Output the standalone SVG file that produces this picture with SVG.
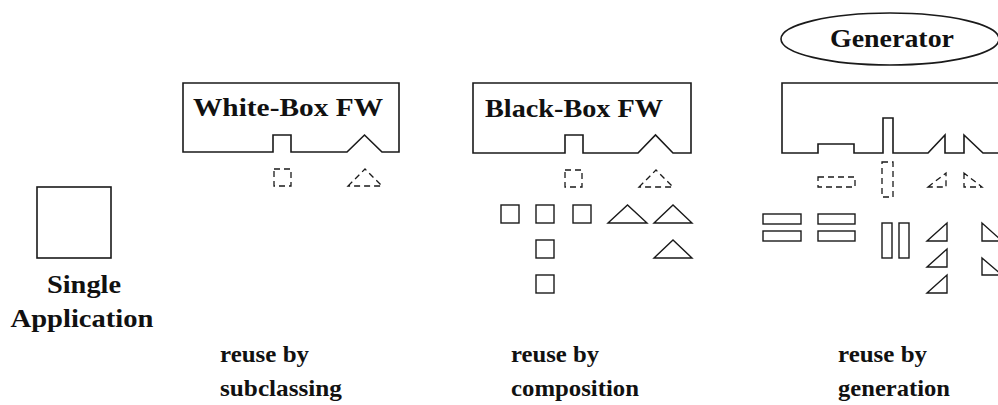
<svg xmlns="http://www.w3.org/2000/svg" width="998" height="405" viewBox="0 0 998 405">
  <style>
    .frame { fill: none; stroke: #1a1a1a; stroke-width: 1.6; stroke-linejoin: miter; }
    .part { fill: none; stroke: #1a1a1a; stroke-width: 1.4; }
    .slot { fill: none; stroke: #1a1a1a; stroke-width: 1.3; stroke-dasharray: 6 4; }
    .title { font-family: "Liberation Serif", "Times New Roman", serif; font-weight: bold; font-size: 26px; fill: #111; }
    .caption { font-family: "Liberation Serif", "Times New Roman", serif; font-weight: bold; font-size: 24px; fill: #111; }
  </style>
  <rect width="998" height="405" fill="#fff"/>

  <!-- Single application -->
  <g id="single-application">
    <rect class="frame" x="37" y="187" width="74" height="71"/>
    <text class="title" x="84" y="293" text-anchor="middle" textLength="74" lengthAdjust="spacingAndGlyphs">Single</text>
    <text class="title" x="82" y="327" text-anchor="middle" textLength="143" lengthAdjust="spacingAndGlyphs">Application</text>
  </g>

  <!-- White-box framework -->
  <g id="white-box-fw">
    <path class="frame" d="M183,83 H399 V152 H382 L364.5,135 L347,152 H291 V135 H273 V152 H183 Z"/>
    <text class="title" x="193" y="116" textLength="190" lengthAdjust="spacingAndGlyphs">White-Box FW</text>
    <rect class="slot" x="274" y="169" width="17" height="17"/>
    <polygon class="slot" points="348,186 365,169 382,186"/>
  </g>
  <g id="label-subclassing">
    <text class="caption" x="220" y="362" textLength="89" lengthAdjust="spacingAndGlyphs">reuse by</text>
    <text class="caption" x="220" y="396" textLength="122" lengthAdjust="spacingAndGlyphs">subclassing</text>
  </g>

  <!-- Black-box framework -->
  <g id="black-box-fw">
    <path class="frame" d="M473,83 H691 V153 H673 L655.5,135 L638,153 H583 V135 H565 V153 H473 Z"/>
    <text class="title" x="485" y="117" textLength="178" lengthAdjust="spacingAndGlyphs">Black-Box FW</text>
    <rect class="slot" x="565" y="170" width="17" height="17"/>
    <polygon class="slot" points="639,187 656,170 673,187"/>
  </g>
  <g id="components-composition">
    <rect class="part" x="501" y="205" width="18" height="18"/>
    <rect class="part" x="536" y="205" width="18" height="18"/>
    <rect class="part" x="573" y="205" width="18" height="18"/>
    <rect class="part" x="536" y="240" width="18" height="18"/>
    <rect class="part" x="536" y="275" width="18" height="18"/>
    <polygon class="part" points="608,223 627.5,205 647,223"/>
    <polygon class="part" points="654,223 673,205 692,223"/>
    <polygon class="part" points="654,258 673,240 692,258"/>
  </g>
  <g id="label-composition">
    <text class="caption" x="511" y="362" textLength="88" lengthAdjust="spacingAndGlyphs">reuse by</text>
    <text class="caption" x="511" y="396" textLength="128" lengthAdjust="spacingAndGlyphs">composition</text>
  </g>

  <!-- Generator -->
  <g id="generator">
    <ellipse class="frame" cx="890" cy="39" rx="109" ry="26"/>
    <text class="title" x="830" y="47" textLength="124" lengthAdjust="spacingAndGlyphs">Generator</text>
  </g>
  <g id="generated-fw">
    <path class="frame" d="M1000,83 H782 V153 H818 V144 H854 V153 H883 V118 H893 V153 H928 L945,135 V153 H964 V135 L983,153 H1000"/>
    <rect class="slot" x="818" y="177" width="37" height="10"/>
    <rect class="slot" x="882" y="162" width="11" height="35"/>
    <polygon class="slot" points="928,187 946,173 946,187"/>
    <polygon class="slot" points="964,173 964,187 982,187"/>
  </g>
  <g id="components-generation">
    <rect class="part" x="763" y="214" width="38" height="10"/>
    <rect class="part" x="763" y="231" width="38" height="10"/>
    <rect class="part" x="818" y="214" width="37" height="10"/>
    <rect class="part" x="818" y="231" width="37" height="10"/>
    <rect class="part" x="882" y="223" width="10" height="35"/>
    <rect class="part" x="899" y="223" width="10" height="35"/>
    <polygon class="part" points="927,241 947,223 947,241"/>
    <polygon class="part" points="927,267 947,249 947,267"/>
    <polygon class="part" points="927,293 947,275 947,293"/>
    <polygon class="part" points="982,223 982,241 1002,241"/>
    <polygon class="part" points="982,258 982,275 1002,275"/>
  </g>
  <g id="label-generation">
    <text class="caption" x="838" y="362" textLength="89" lengthAdjust="spacingAndGlyphs">reuse by</text>
    <text class="caption" x="838" y="396" textLength="112" lengthAdjust="spacingAndGlyphs">generation</text>
  </g>
</svg>
